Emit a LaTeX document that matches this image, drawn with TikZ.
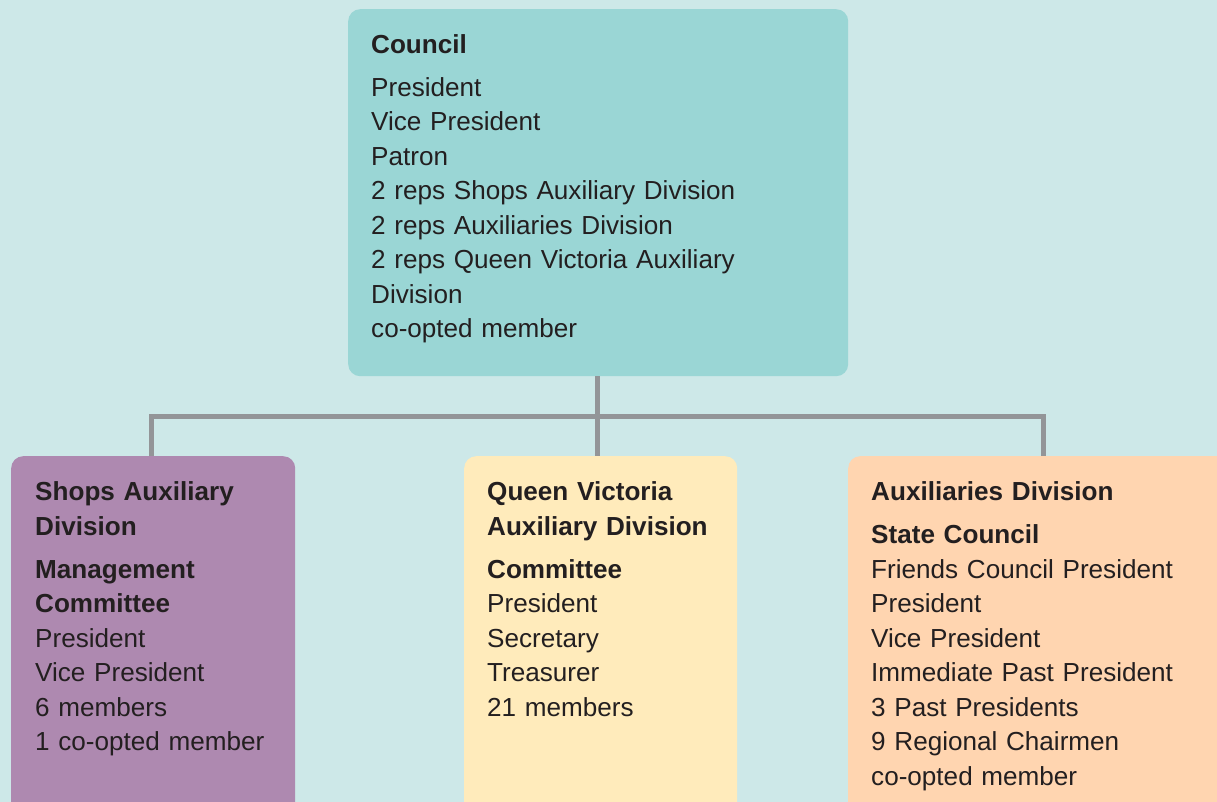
\documentclass[tikz,border=0pt]{standalone}
\usepackage{fontspec}
\setmainfont{Liberation Sans}
\definecolor{bgcol}{HTML}{CDE8E8}
\definecolor{councilcol}{HTML}{9AD6D5}
\definecolor{shopscol}{HTML}{AE89B0}
\definecolor{queencol}{HTML}{FFEBBB}
\definecolor{auxcol}{HTML}{FFD5B0}
\definecolor{linkcol}{HTML}{939598}
\definecolor{textcol}{HTML}{231F20}
\begin{document}
\begin{tikzpicture}
	[x=1pt,y=-1pt,
	box/.style={anchor=north west,rounded corners=12pt,inner sep=0pt},
	boxtext/.style={anchor=base west,align=left,inner sep=0pt,
		font=\fontsize{26.1}{34.5}\selectfont,text=textcol},
	link/.style={draw=linkcol,line width=5pt}
	]
	\fill[bgcol] (0,0) rectangle (1217,802);
	\useasboundingbox (0,0) rectangle (1217,802);
	\node[box,fill=councilcol,minimum width=500pt,minimum height=367pt] (council) at (348,9) {};
	\node[box,fill=shopscol,minimum width=284pt,minimum height=400pt] (shops) at (11,456) {};
	\node[box,fill=queencol,minimum width=273pt,minimum height=400pt] (queen) at (464,456) {};
	\node[box,fill=auxcol,minimum width=390pt,minimum height=400pt] (auxil) at (848,456) {};
	\coordinate (bus) at (597,416);
	\coordinate (shops top) at ([xshift=-2pt]shops.north);
	\draw[link] (council.south -| bus) -- (bus);
	\draw[link] (bus) -- (bus |- queen.north);
	\draw[link,line join=miter] (shops top) -- (bus -| shops top) -- (bus -| auxil.north) -- (auxil.north);
	\node[boxtext,text width=470pt] (council text) at (371,53.5)
		{\textbf{Council}\\[8.5pt]
		President\\
		Vice President\\
		Patron\\
		2 reps Shops Auxiliary Division\\
		2 reps Auxiliaries Division\\
		2 reps Queen Victoria Auxiliary\\
		Division\\
		co-opted member};
	\node[boxtext,text width=260pt] (shops text) at (35,500.5)
		{\textbf{Shops Auxiliary}\\
		\textbf{Division}\\[8.5pt]
		\textbf{Management}\\
		\textbf{Committee}\\
		President\\
		Vice President\\
		6 members\\
		1 co-opted member};
	\node[boxtext,text width=250pt] (queen text) at (487,500.5)
		{\textbf{Queen Victoria}\\
		\textbf{Auxiliary Division}\\[8.5pt]
		\textbf{Committee}\\
		President\\
		Secretary\\
		Treasurer\\
		21 members};
	\node[boxtext,text width=340pt] (auxil text) at (871,500.5)
		{\textbf{Auxiliaries Division}\\[8.5pt]
		\textbf{State Council}\\
		Friends Council President\\
		President\\
		Vice President\\
		Immediate Past President\\
		3 Past Presidents\\
		9 Regional Chairmen\\
		co-opted member};
\end{tikzpicture}
\end{document}
